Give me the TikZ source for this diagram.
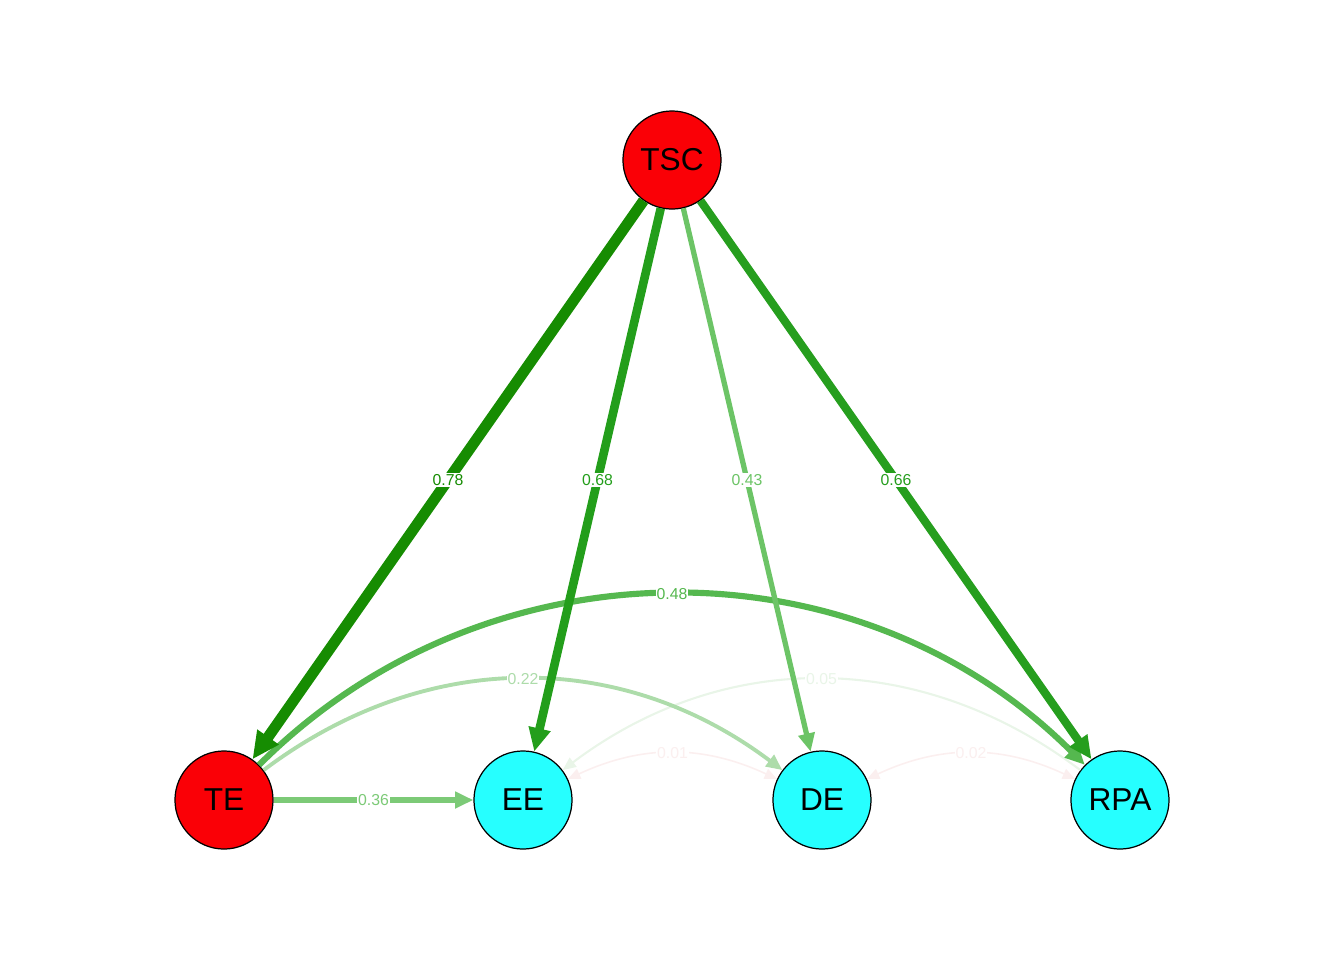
\documentclass[tikz,border=0pt]{standalone}
\usepackage{fontspec}
\setmainfont{Liberation Sans}
\usetikzlibrary{arrows.meta}
\definecolor{tered}{HTML}{FA0006}
\definecolor{eecyan}{HTML}{26FFFF}
\definecolor{gA}{HTML}{168C02}
\definecolor{gB}{HTML}{239E1B}
\definecolor{gC}{HTML}{269E1E}
\definecolor{gD}{HTML}{6CC466}
\definecolor{gE}{HTML}{55B84F}
\definecolor{gF}{HTML}{7CCA77}
\definecolor{gG}{HTML}{ADDCAA}
\definecolor{gH}{HTML}{E9F5E8}
\definecolor{rA}{HTML}{FBEFEF}
\tikzset{
  var/.style={circle,draw=black,line width=0.35pt,minimum size=0.98cm,inner sep=0pt,
    font=\fontsize{9}{10}\selectfont},
  wgt/.style 2 args={draw=#1,line width=#2,
    -{Triangle[length=2.8pt 1.6,width=2.3pt 1.5]}},
  both/.style={draw=#1,line width=0.45pt,
    {Triangle[length=2.8pt 1.6,width=2.3pt 1.5]}-{Triangle[length=2.8pt 1.6,width=2.3pt 1.5]}},
  lbl/.style={fill=white,inner sep=0.3pt,font=\fontsize{4.5}{5}\selectfont,text=#1}
}
\begin{document}
\begin{tikzpicture}[x=0.01cm,y=-0.01cm]
      \useasboundingbox (0,0) rectangle (1344,960);
      \draw
        (672,160) node[var,fill=tered] (TSC){TSC}
        (224,800) node[var,fill=tered] (TE){TE}
        (523,800) node[var,fill=eecyan] (EE){EE}
        (822,800) node[var,fill=eecyan] (DE){DE}
        (1120,800) node[var,fill=eecyan] (RPA){RPA};
      \begin{scope}[-]
        \draw[both=rA] (EE) to[bend left=25] node[lbl=rA] {0.01} (DE);
        \draw[both=rA] (DE) to[bend left=25] node[lbl=rA] {0.02} (RPA);
        \draw[wgt={gH}{0.6pt}] (RPA) to[bend right=37] node[lbl=gH] {0.05} (EE);
        \draw[wgt={gG}{1.1pt}] (TE) to[bend left=37] node[lbl=gG] {0.22} (DE);
        \draw[wgt={gE}{1.75pt}] (TE) to[bend left=45] node[lbl=gE] {0.48} (RPA);
        \draw[wgt={gF}{1.5pt}] (TE) to node[lbl=gF] {0.36} (EE);
        \draw[wgt={gD}{1.5pt}] (TSC) to node[lbl=gD] {0.43} (DE);
        \draw[wgt={gC}{2.35pt}] (TSC) to node[lbl=gC] {0.66} (RPA);
        \draw[wgt={gB}{2.45pt}] (TSC) to node[lbl=gB] {0.68} (EE);
        \draw[wgt={gA}{3.1pt}] (TSC) to node[lbl=gA] {0.78} (TE);
      \end{scope}
    \end{tikzpicture}
\end{document}
